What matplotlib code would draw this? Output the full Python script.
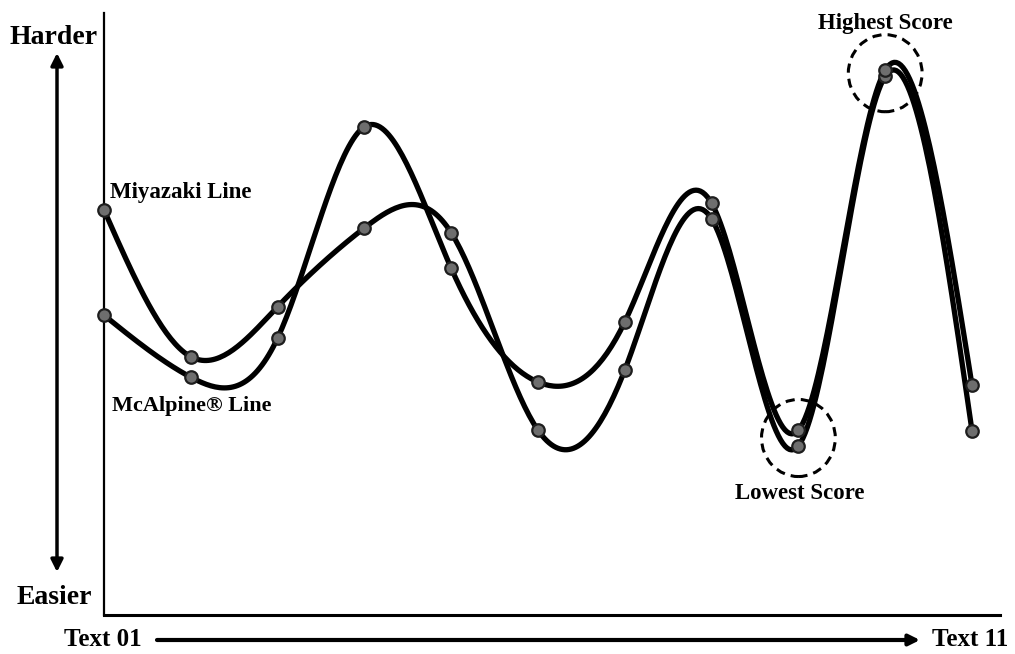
import numpy as np
import matplotlib.pyplot as plt
from matplotlib.patches import Ellipse

plt.rcParams['font.family'] = ['Liberation Serif', 'DejaVu Serif']
plt.rcParams['font.weight'] = 'bold'

# texts 01..11 and difficulty scores (0 = easiest, 100 = hardest)
texts = np.arange(1, 12)
miyazaki = [67.3, 42.9, 51.2, 64.3, 63.5, 30.7, 40.7, 65.8, 28.1, 89.5, 30.6]
mcalpine = [49.8, 39.5, 46.0, 81.1, 57.6, 38.7, 48.7, 68.4, 30.7, 90.5, 38.2]


def natural_spline(x, y, n=40):
    # natural cubic spline through the points
    x = np.asarray(x, float)
    y = np.asarray(y, float)
    k = len(x)
    h = np.diff(x)
    A = np.zeros((k, k))
    b = np.zeros(k)
    A[0, 0] = 1
    A[-1, -1] = 1
    for i in range(1, k - 1):
        A[i, i - 1] = h[i - 1]
        A[i, i] = 2 * (h[i - 1] + h[i])
        A[i, i + 1] = h[i]
        b[i] = 6 * ((y[i + 1] - y[i]) / h[i] - (y[i] - y[i - 1]) / h[i - 1])
    M = np.linalg.solve(A, b)
    xs, ys = [], []
    for i in range(k - 1):
        t = np.linspace(x[i], x[i + 1], n)
        a = x[i + 1] - t
        c = t - x[i]
        s = (M[i] * a**3 + M[i + 1] * c**3) / (6 * h[i]) \
            + (y[i] / h[i] - M[i] * h[i] / 6) * a \
            + (y[i + 1] / h[i] - M[i + 1] * h[i] / 6) * c
        xs.append(t)
        ys.append(s)
    return np.concatenate(xs), np.concatenate(ys)


W, H = 1015, 654
fig = plt.figure(figsize=(W / 100, H / 100), dpi=100)
ax = fig.add_axes([104 / W, 1 - 615 / H, (1000 - 104) / W, (615 - 13) / H])

for vals in (miyazaki, mcalpine):
    sx, sy = natural_spline(texts, vals)
    ax.plot(sx, sy, color='black', lw=3.8, solid_capstyle='round', zorder=2, clip_on=False)
    ax.plot(texts, vals, 'o', ms=9, mfc='#6e6e6e', mec='#1e1e1e', mew=1.6, zorder=3,
            clip_on=False)

ax.set_xlim(1, 1 + (1000 - 104) / 86.8)
ax.set_ylim(0, 100)
ax.set_xticks([])
ax.set_yticks([])
for s in ('top', 'right'):
    ax.spines[s].set_visible(False)
ax.spines['left'].set_linewidth(1.6)
ax.spines['bottom'].set_linewidth(2.2)
ax.spines['left'].set_zorder(1)

# dashed circles around highest / lowest scores
for i in (8, 9):
    cy = (miyazaki[i] + mcalpine[i]) / 2
    ax.add_patch(Ellipse((texts[i], cy), 0.85, 12.8, fill=False, ls=(0, (3, 2)),
                         lw=2.2, ec='black', zorder=4))

ax.text(texts[0] + 0.07, miyazaki[0] + 2.8, 'Miyazaki Line', fontsize=16.5, va='center')
ax.text(texts[0] + 0.09, mcalpine[1] - 4.7, 'McAlpine® Line', fontsize=16, va='center')
ax.text(texts[9], 98.3, 'Highest Score', fontsize=16.5, ha='center', va='center', clip_on=False)
ax.text(texts[8] + 0.02, 20.1, 'Lowest Score', fontsize=16.5, ha='center', va='center')


def fp(px, py):
    return (px / W, 1 - py / H)


fig.text(*fp(54, 37), 'Harder', fontsize=20, ha='center', va='center')
fig.text(*fp(54, 598), 'Easier', fontsize=20, ha='center', va='center')
fig.text(*fp(103, 640), 'Text 01', fontsize=18, ha='center', va='center')
fig.text(*fp(970, 640), 'Text 11', fontsize=18, ha='center', va='center')

ax.annotate('', xy=fp(57, 53), xytext=fp(57, 572), xycoords='figure fraction',
            textcoords='figure fraction',
            arrowprops=dict(arrowstyle='<|-|>', lw=2.5, color='black', mutation_scale=18,
                            shrinkA=0, shrinkB=0))
ax.annotate('', xy=fp(920, 640), xytext=fp(157, 640), xycoords='figure fraction',
            textcoords='figure fraction',
            arrowprops=dict(arrowstyle='-|>', lw=3, color='black', mutation_scale=16,
                            shrinkA=0, shrinkB=0))

fig.savefig('out.png', dpi=100)
